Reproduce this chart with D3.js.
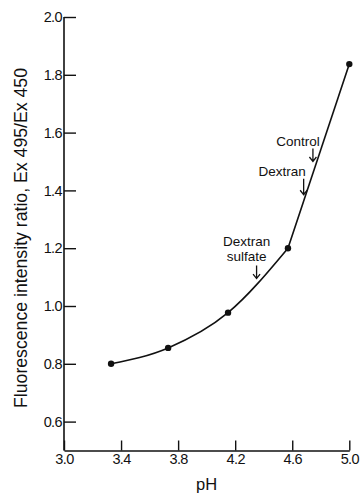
<!DOCTYPE html>
<html>
<head>
<meta charset="utf-8">
<script src="https://cdn.jsdelivr.net/npm/d3@7"></script>
<style>
  html, body { margin: 0; padding: 0; background: #fff; }
  svg { display: block; }
  text { font-family: "Liberation Sans", Arial, sans-serif; fill: #111; }
</style>
</head>
<body>
<svg id="chart" width="360" height="496"></svg>
<script>
// ---- data ----
const pH = [3.33, 3.73, 4.15, 4.57, 5.0];
const ratio = [0.80, 0.855, 0.977, 1.20, 1.837];
const xTicks = [3.0, 3.4, 3.8, 4.2, 4.6, 5.0];
const yTicks = [0.6, 0.8, 1.0, 1.2, 1.4, 1.6, 1.8, 2.0];
const annLabels = [["Control"], ["Dextran"], ["Dextran", "sulfate"]];
const annTextX = [4.64, 4.53, 4.28];
const annTextY = [[1.555], [1.45], [1.206, 1.154]];
const annArrowX = [4.745, 4.68, 4.35];
const annArrowTop = [1.545, 1.44, 1.14];
const annArrowTip = [1.50, 1.385, 1.095];
const xLabel = "pH";
const yLabel = "Fluorescence intensity ratio, Ex 495/Ex 450";

// ---- layout ----
const svg = d3.select("#chart");
const x = d3.scaleLinear().domain([3.0, 5.0]).range([64, 349.3]);
const y = d3.scaleLinear().domain([0.5, 2.0]).range([450.5, 17]);
const ink = "#111";

// axes
const gx = svg.append("g").attr("transform", `translate(0,${y(0.5)})`)
  .call(d3.axisBottom(x).tickValues(xTicks).tickFormat(d3.format(".1f"))
    .tickSizeInner(-10).tickSizeOuter(0).tickPadding(3));
const gy = svg.append("g").attr("transform", `translate(${x(3.0)},0)`)
  .call(d3.axisLeft(y).tickValues(yTicks).tickFormat(d3.format(".1f"))
    .tickSizeInner(-12).tickSizeOuter(0).tickPadding(2));
[gx, gy].forEach(g => {
  g.selectAll("path.domain").attr("stroke", ink).attr("stroke-width", 1.6);
  g.selectAll(".tick line").attr("stroke", ink).attr("stroke-width", 1.4);
  g.selectAll(".tick text").attr("fill", ink)
    .style("font-family", '"Liberation Sans", Arial, sans-serif')
    .style("font-size", "14.5px").attr("letter-spacing", "-0.6");
});
gy.select("path.domain").attr("d", `M0,${y(0.5)}V${y(2.0)}`);

// axis titles
svg.append("text")
  .attr("x", (x(3.0) + x(5.0)) / 2).attr("y", 490)
  .attr("text-anchor", "middle").style("font-size", "16.5px")
  .text(xLabel);
svg.append("text")
  .attr("transform", `translate(27,238) rotate(-90)`)
  .attr("text-anchor", "middle").style("font-size", "17.5px")
  .attr("textLength", 340).attr("lengthAdjust", "spacingAndGlyphs")
  .text(yLabel);

// curve
const pts = pH.map((v, i) => [v, ratio[i]]);
const curve = d3.line().x(d => x(d[0])).y(d => y(d[1])).curve(d3.curveMonotoneX);
const straight = d3.line().x(d => x(d[0])).y(d => y(d[1]));
svg.append("path").attr("d", curve(pts.slice(0, 4)))
  .attr("fill", "none").attr("stroke", ink).attr("stroke-width", 1.6);
svg.append("path").attr("d", straight(pts.slice(3)))
  .attr("fill", "none").attr("stroke", ink).attr("stroke-width", 1.6);
svg.selectAll("circle.pt").data(pts).join("circle")
  .attr("class", "pt")
  .attr("cx", d => x(d[0])).attr("cy", d => y(d[1])).attr("r", 3.2)
  .attr("fill", ink);

// annotations
annLabels.forEach((lines, i) => {
  lines.forEach((t, j) => {
    svg.append("text")
      .attr("x", x(annTextX[i])).attr("y", y(annTextY[i][j]))
      .attr("text-anchor", "middle").style("font-size", "13.5px")
      .text(t);
  });
  const ax = x(annArrowX[i]), a0 = y(annArrowTop[i]), a1 = y(annArrowTip[i]);
  svg.append("path")
    .attr("d", `M${ax},${a0}V${a1}M${ax - 3.5},${a1 - 4.5}L${ax},${a1}L${ax + 3.5},${a1 - 4.5}`)
    .attr("fill", "none").attr("stroke", ink).attr("stroke-width", 1.3);
});
</script>
</body>
</html>
